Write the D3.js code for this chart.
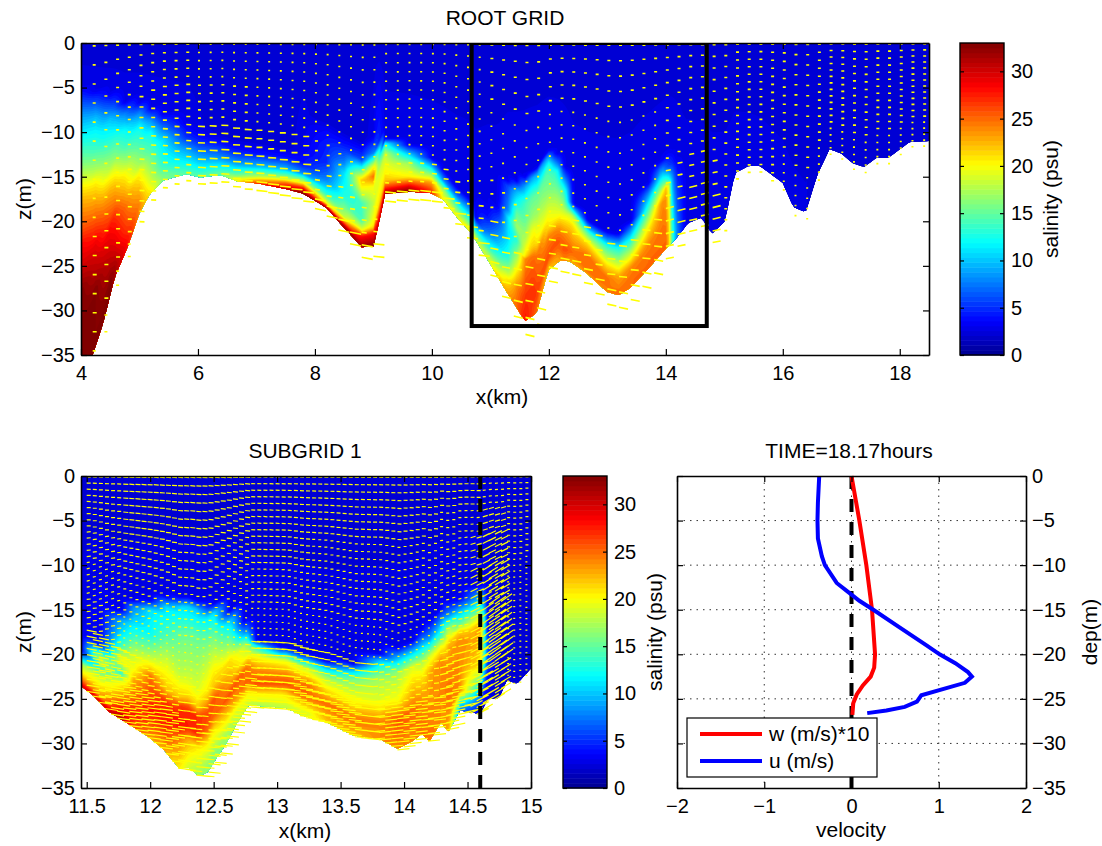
<!DOCTYPE html>
<html>
<head>
<meta charset="utf-8">
<script src="https://cdn.jsdelivr.net/npm/d3@7"></script>
<style>
  html, body { margin: 0; background: #fff; }
  text { font-family: "Liberation Sans", Arial, sans-serif; fill: #000; }
  .tick text { font-size: 20px; }
  .lab { font-size: 21px; text-anchor: middle; }
</style>
</head>
<body>
<div id="chart"></div>
<script>
const width = 1102, height = 846;

// ---------- data ----------

// seabed of the root grid
const rootBottomX = [4, 4.21, 4.38, 4.58, 4.78, 5, 5.18, 5.41, 5.81, 6.03, 6.38, 6.66, 7.06, 7.52, 7.8, 8.2, 8.48, 8.8, 9, 9.08, 9.2, 9.62, 9.97, 10.2, 10.42, 10.68, 10.99, 11.22, 11.59, 11.79, 11.88, 11.99, 12.19, 12.36, 12.64, 12.99, 13.19, 13.39, 13.73, 14.01, 14.18, 14.38, 14.61, 14.79, 15.01, 15.18, 15.41, 15.61, 16, 16.18, 16.39, 16.59, 16.8, 17, 17.2, 17.39, 17.6, 17.8, 18.17, 18.5];
const rootBottom = [38, 34.8, 31.4, 26.2, 23.2, 19.1, 16.9, 15.4, 14.7, 15.1, 14.8, 15.5, 15.8, 16.4, 16.9, 18.5, 20.6, 22.9, 22.8, 20.6, 16.9, 16.7, 16.8, 17.6, 19.5, 21.4, 24.7, 27.3, 31.2, 30.3, 28.1, 25.5, 24.4, 24.5, 25.8, 27.9, 28.3, 27.5, 25.1, 23, 21.9, 20.2, 19.6, 21.4, 20, 14.6, 13.8, 13.8, 15.7, 18.4, 19, 14.8, 11.9, 12.4, 13.5, 13.9, 12.9, 12.9, 11.1, 11];

// salinity profiles of the root grid, [depth, psu] going down
const rootProfileX = [4, 4.25, 4.5, 4.75, 5, 5.2, 5.4, 5.8, 6.4, 7, 7.5, 7.8, 8.2, 8.5, 8.8, 9, 9.08, 9.2, 9.6, 10, 10.2, 10.42, 10.68, 10.735, 10.96, 11.13, 11.3, 11.45, 11.59, 11.73, 11.87, 11.99, 12.13, 12.27, 12.42, 12.67, 12.96, 13.19, 13.41, 13.7, 13.93, 14.03, 14.1, 14.18, 14.33, 18.5];
const rootProfiles = [
  [[4.9, 3], [6, 5], [8.3, 9], [9.8, 11], [10.9, 12.5], [13.5, 16], [15.4, 19], [16.5, 21], [18, 23], [21, 26], [22.8, 28.5], [25, 30], [28, 33]],
  [[5.3, 3], [6.6, 6], [8.5, 10], [10.1, 12], [12, 14], [14.2, 17.5], [15.7, 20.5], [17.2, 22.5], [20.2, 26], [22.5, 29], [25.5, 31], [27.8, 33]],
  [[5.6, 3], [7, 6], [8.6, 10], [10.1, 12], [11.6, 14], [13.9, 17.5], [15, 20], [16.5, 22.5], [19.5, 26], [20.6, 28], [24.7, 31], [27, 33]],
  [[6.6, 3], [8, 8], [9.8, 12], [11.6, 14], [13.5, 17.5], [14.6, 20], [16.5, 22.5], [18.4, 25], [21, 27], [22.9, 29]],
  [[6.6, 3], [7.9, 8], [9.4, 12], [11.3, 14], [13.5, 17], [14.6, 20], [16.5, 22.5], [18, 24]],
  [[7.3, 3], [8.6, 8], [10.1, 12], [12.8, 15], [14.3, 17], [15.8, 19], [16.9, 21]],
  [[7.9, 3], [9.4, 7], [10.9, 11], [13.5, 13], [15, 16]],
  [[9, 3], [10.5, 5], [12, 9], [13.5, 12], [14.6, 14.5]],
  [[10.1, 2], [11.3, 4], [12.8, 8], [13.9, 12], [14.6, 15]],
  [[10.9, 2], [12.4, 4], [13.9, 10], [15, 18], [15.6, 25], [15.8, 28]],
  [[11.6, 2], [12.8, 4], [14.2, 10], [15.2, 18], [15.7, 25], [16.4, 31]],
  [[11.6, 3], [13.5, 4], [14.6, 8], [15.7, 20], [16.3, 28], [16.9, 33]],
  [[8.6, 2], [9.8, 3.5], [11.6, 4.5], [13.5, 5], [15.4, 8], [16.9, 13], [18, 20], [18.5, 32]],
  [[9.8, 2], [11.3, 4], [13.5, 8], [14.6, 11], [17.2, 13], [19.5, 18], [20.2, 26], [20.6, 32]],
  [[10.9, 2], [13.1, 6], [14.2, 14], [15.4, 22], [16.3, 20], [18, 14], [19.9, 14], [21, 20], [21.7, 28], [22.9, 32]],
  [[10.5, 3], [12.4, 8], [13.9, 20], [15, 25], [16.1, 20], [18, 18], [20.6, 21], [21.4, 28], [22.8, 33]],
  [[11.3, 5], [12.4, 14], [15, 19], [18.4, 21], [20.6, 30]],
  [[10.7, 3], [11.3, 12], [12.4, 18], [14.2, 20], [15.4, 22], [16.1, 26], [16.9, 32]],
  [[11.4, 3], [12.4, 10], [13.5, 17], [15, 20.5], [15.7, 26], [16.2, 30], [16.7, 33]],
  [[12.9, 3], [13.9, 10], [15, 18], [15.7, 23], [16.8, 27]],
  [[14.2, 3], [15.4, 8], [16.5, 17], [17.6, 20]],
  [[16.1, 3], [17.2, 8], [18.4, 15], [19.5, 20]],
  [[17.6, 3], [18.7, 8], [20.2, 14], [21.4, 21]],
  [[19.5, 3], [20.2, 8], [21, 13], [21.7, 18]],
  [[18.2, 3], [19.5, 4], [21, 7], [22.5, 12], [23.6, 17], [25, 20]],
  [[18.4, 3], [19.9, 6], [22.5, 10], [24, 14], [25.5, 19], [26.2, 22]],
  [[15.4, 3], [16.1, 6], [18.7, 8], [19.5, 11], [22.1, 11], [24, 13], [25.5, 17], [26.6, 21], [28.5, 24]],
  [[15.4, 3], [16.5, 9], [19.1, 15], [20.6, 17], [22.1, 13], [24, 17], [25.8, 21], [27.3, 24], [29.2, 25]],
  [[15, 3], [16.1, 9], [18, 14], [19.9, 15], [21.7, 17], [24, 21], [24.3, 24], [27.3, 26], [31.1, 28]],
  [[14.2, 3], [15, 9], [17.2, 15], [19.5, 17], [21, 20], [22.8, 22], [24, 25], [28, 27], [30.7, 26]],
  [[13.1, 3], [13.9, 9], [16.1, 15], [19.1, 18], [21, 20], [22.5, 24], [24.7, 25], [26.6, 26], [27.7, 24]],
  [[12, 3], [12.8, 9], [13.9, 14], [16.5, 16], [18.7, 19], [20.6, 21], [21.7, 24], [24, 26], [25.5, 22]],
  [[12.4, 3], [13.5, 8], [14.4, 13], [17.2, 17], [19.5, 20], [21, 24], [22.5, 26], [24.3, 23]],
  [[13.9, 3], [15, 7], [16.5, 13], [18.4, 17], [19.9, 21], [21.4, 24], [23.2, 26], [24.5, 24]],
  [[18, 3], [18.7, 10], [19.5, 18], [20.6, 21], [22.1, 23], [23.6, 25], [24.7, 23]],
  [[19.9, 3], [20.6, 8], [21.3, 14], [22.5, 21], [24, 25], [25.5, 25], [26.2, 23]],
  [[21, 3], [21.7, 7], [22.8, 14], [24.7, 21], [26.2, 25], [28.1, 24]],
  [[21.4, 3], [22.1, 7], [23.2, 13], [24.7, 18], [26.2, 23], [28.1, 25]],
  [[19.9, 3], [20.6, 7], [22.1, 13], [24, 20], [25.1, 24], [26.6, 25]],
  [[15.7, 3], [16.9, 8], [18.7, 14], [20.6, 20], [22.5, 24], [24.3, 25]],
  [[13.1, 3], [14.1, 8], [15.4, 13], [16.9, 20], [18, 24], [22.5, 25]],
  [[12, 3], [13.9, 6], [15.4, 14], [16.1, 23], [22, 25]],
  [[12, 3], [13.5, 5], [15.4, 10], [18.7, 13], [22.1, 15]],
  [[12.8, 3], [14.2, 4], [17.2, 6], [21, 8]],
  [[17.2, 3]],
  []
];

// seabed of subgrid 1
const subBottomX = [11.45, 11.55, 11.68, 11.85, 11.99, 12.1, 12.23, 12.3, 12.38, 12.45, 12.52, 12.6, 12.68, 12.77, 12.86, 13.07, 13.2, 13.39, 13.6, 13.81, 13.95, 14.07, 14.14, 14.2, 14.29, 14.35, 14.44, 14.6, 14.66, 14.75, 14.81, 14.89, 15];
const subBottom = [23.5, 24.6, 26.5, 28, 29.3, 30.6, 32.8, 32.7, 33.6, 33.3, 31.7, 30, 27.8, 25.8, 25.8, 26, 26.9, 27.6, 29.1, 29.5, 30.6, 29.7, 28.9, 29.8, 27.6, 28.7, 26.3, 26.7, 25, 24.9, 22.9, 23.3, 21.6];

// salinity profiles of subgrid 1
const subProfileX = [11.45, 11.61, 11.77, 11.87, 12, 12.13, 12.24, 12.37, 12.5, 12.63, 12.74, 12.84, 13.03, 13.24, 13.39, 13.6, 13.81, 13.95, 14.07, 14.14, 14.2, 14.29, 14.35, 14.44, 14.6, 14.66, 14.75, 15];
const subProfiles = [
  [[19.5, 3], [20.3, 9], [21, 17], [22.1, 21], [23.4, 29]],
  [[17.7, 3.5], [19.1, 5], [19.9, 14], [20.6, 19], [21.4, 14], [22.1, 16], [23.3, 20], [24.8, 24], [25.7, 32]],
  [[15, 3], [16.2, 9], [17.7, 11], [19.1, 14], [20.6, 20], [22.1, 13], [23.3, 20], [25.1, 25], [27, 31], [27.7, 32]],
  [[13.9, 3], [14.7, 8], [17.7, 13], [19.9, 18], [21.8, 20], [22.9, 23], [24.8, 25], [26.6, 28], [28.3, 26]],
  [[13.9, 3], [15, 11], [17.7, 12], [19.9, 17], [21.4, 21], [22.5, 25], [24.4, 26], [26.3, 28], [28.5, 25], [29.6, 23]],
  [[13.5, 3], [14.7, 11], [17.7, 14], [21, 19], [24, 22], [25.5, 27], [27.4, 28], [29.2, 26], [30.7, 23]],
  [[13.5, 3], [14.7, 11], [17.7, 15], [22.1, 18], [24.8, 22], [25.9, 27], [28.1, 28], [29.6, 24], [33, 20]],
  [[13.9, 3], [15, 10], [18, 15], [24, 19], [25.9, 22], [27, 27], [28.9, 27], [30.4, 21], [33.4, 17]],
  [[14.3, 3], [15.4, 11], [18.4, 16], [21.4, 20], [23.6, 22], [25.1, 26], [27, 25], [28.5, 21], [31.5, 16]],
  [[15, 3], [16.2, 10], [19.1, 17], [20.6, 21], [22.9, 23], [24.4, 26], [26.3, 22], [27.8, 18], [29.6, 16]],
  [[16.2, 3], [17.7, 9], [19.1, 18], [20.6, 20], [21.8, 25], [23.6, 25], [25.1, 20], [26.6, 18]],
  [[18.4, 3], [19.1, 12], [20.3, 20], [21.8, 24], [23.3, 26], [24.4, 21], [25.9, 17]],
  [[19.1, 3], [19.9, 10], [20.6, 19], [22.1, 24], [23.3, 26], [24.4, 21], [25.9, 18]],
  [[19.9, 3], [20.6, 9], [21.6, 18], [23.3, 25], [24.8, 25], [26.6, 19]],
  [[20.7, 3], [21.4, 9], [22.6, 17], [24, 21], [25.5, 25], [27.6, 22]],
  [[21, 3], [21.8, 10], [22.9, 16], [25.2, 20], [27.4, 25], [29.1, 22]],
  [[19.9, 3], [20.7, 10], [22.6, 17], [25.2, 19], [27.4, 24], [29.5, 24]],
  [[19.2, 3], [20.3, 9], [22.2, 17], [25.2, 20], [27.4, 26], [30.6, 24]],
  [[18.4, 3], [19.7, 10], [21.4, 19], [23.7, 22], [26.3, 25], [29.7, 24]],
  [[17, 3], [18.8, 9], [20.7, 17], [22.6, 21], [25.2, 24], [28.9, 25]],
  [[16.2, 3], [18.4, 9], [20.3, 19], [22.2, 23], [29.8, 25]],
  [[14.7, 3], [16.2, 8], [18, 14], [19.2, 20], [20.7, 24], [27.6, 24]],
  [[14, 3], [15.8, 9], [17.3, 18], [19.2, 23], [24.4, 25], [28.7, 23]],
  [[13.6, 3], [15, 9], [16.6, 15], [17.3, 21], [18.4, 24], [24, 24], [25.2, 14], [26.3, 7]],
  [[12.3, 3], [13.2, 8], [14.7, 13], [15.8, 19], [17, 24], [21.4, 21], [23.7, 12], [25.2, 6], [26.7, 3]],
  [[17, 3], [18.8, 6], [21.4, 5], [23, 3]],
  [],
  []
];

// quiver blocks, arrow length (px on screen) and slope, one row per sigma band
const rootArrowXBreaks = [5, 6, 7, 8, 9, 10, 11, 12, 13, 14, 15, 16];
const rootArrowSigmaBreaks = [0.3, 0.6, 0.8, 0.95];
const rootArrowLen = [
  [3, 3, 2, 2, 2, 2, 2, 3, 3, 3, 3, 3, 3],
  [3, 4, 3, 2, 2, 2, 2, 2, 2, 2, 3, 3, 3],
  [4, 5, 7, 6, 3, 2, 2, 3, 2, 2, 5, 3, 3],
  [4, 5, 8, 8, 5, 4, 5, 8, 7, 8, 8, 3, 2],
  [3, 5, 8, 11, 11, 11, 11, 9, 9, 9, 8, 3, 2]
];
const rootArrowSlope = [
  [0, 0, 0, 0, 0, 0, 0, 0, 0, 0, 0, 0, 0],
  [0, 0, 0, 0, 0, 0, 0, 0, 0, 0, 0, 0, 0],
  [0, 0.05, 0.05, 0, 0, 0, 0, 0, 0, 0, -0.2, 0, 0],
  [0, 0.05, 0.05, 0.05, 0.15, 0.1, 0.1, 0.2, 0.15, 0.1, -0.25, 0, 0],
  [0, 0.05, 0.05, 0.1, 0.2, 0.1, 0.1, 0.25, 0.2, 0.2, -0.2, 0, 0]
];

const subArrowXBreaks = [11.75, 12.25, 12.75, 13.25, 13.75, 14.25, 14.5, 14.62, 14.78];
const subArrowSigmaBreaks = [0.12, 0.25, 0.4, 0.55, 0.7, 0.85];
const subArrowLen = [
  [4, 5, 5, 4, 4, 4, 4, 4, 3, 3],
  [4, 5, 5, 4, 4, 4, 3, 3, 5, 3],
  [4, 4, 4, 4, 3, 3, 3, 5, 7, 3],
  [3, 3, 3, 3, 3, 3, 3, 7, 9, 2],
  [4, 2, 2, 2, 2, 2, 4, 9, 11, 2],
  [10, 7, 6, 9, 6, 5, 8, 12, 12, 2],
  [13, 13, 12, 13, 13, 12, 13, 12, 10, 2]
];
const subArrowSlope = [
  [0.03, 0.08, 0.08, 0.05, 0.05, 0.05, 0, 0, -0.1, 0],
  [0, 0.1, 0.1, 0.08, 0.05, 0.03, 0, -0.1, -0.3, 0],
  [-0.1, 0.1, 0.1, 0.05, 0, 0, -0.1, -0.3, -0.5, 0],
  [-0.2, 0, 0, 0, 0, 0, -0.2, -0.5, -0.6, 0],
  [-0.1, 0.1, 0.1, 0, 0, 0, -0.2, -0.5, -0.7, 0],
  [0.2, 0.15, 0.1, 0.1, 0.1, -0.1, -0.25, -0.5, -0.7, 0],
  [0.15, 0.12, 0.1, 0.1, 0.1, -0.1, -0.2, -0.5, -0.6, 0]
];

// velocity profiles of the right panel
const wDepth = [0, 5, 10, 15, 20, 21.5, 22.5, 23.5, 24.5, 25.5, 26.8];
const wValue = [0, 0.09, 0.17, 0.235, 0.27, 0.26, 0.22, 0.13, 0.06, 0.02, 0.01];
const uDepth = [0, 3, 5, 7, 9, 10, 12, 13, 14, 15, 17, 19, 20, 21, 22, 22.5, 23.2, 24.6, 25.3, 25.9, 26.3, 26.6];
const uValue = [-0.37, -0.385, -0.39, -0.385, -0.34, -0.305, -0.17, -0.04, 0.09, 0.25, 0.555, 0.86, 1.01, 1.19, 1.335, 1.38, 1.3, 0.8, 0.75, 0.61, 0.4, 0.18];

const depthTicks = [0, -5, -10, -15, -20, -25, -30, -35];
const rootXTicks = [4, 6, 8, 10, 12, 14, 16, 18];
const subXTicks = [11.5, 12, 12.5, 13, 13.5, 14, 14.5, 15];
const velTicks = [-2, -1, 0, 1, 2];
const cbarTicks = [0, 5, 10, 15, 20, 25, 30];

const salMax = 33;
const background = 2; // psu of the fresh water on top

// ---------- scales ----------

// matlab's jet colormap
const jet = d3.scaleLinear()
  .domain([0, 0.11, 0.36, 0.61, 0.86, 1])
  .range(["#00008f", "#0000ff", "#00ffff", "#ffff00", "#ff0000", "#800000"])
  .clamp(true);

const y = d3.scaleLinear().domain([-35, 0]);

const svg = d3.select("#chart").append("svg")
  .attr("width", width).attr("height", height);

// draws axes frame with inward ticks on all four sides
function frame(g, xs, ys, xTicks, yTicks, yRight) {
  const xFmt = d3.format("");
  g.append("g").attr("transform", `translate(0,${ys.range()[0]})`)
    .call(d3.axisBottom(xs).tickValues(xTicks).tickFormat(xFmt).tickSizeInner(-6).tickSizeOuter(0).tickPadding(11));
  g.append("g").attr("transform", `translate(0,${ys.range()[1]})`)
    .call(d3.axisTop(xs).tickValues(xTicks).tickFormat("").tickSizeInner(-6).tickSizeOuter(0));
  const axL = yRight ? d3.axisLeft(ys).tickFormat("") : d3.axisLeft(ys).tickPadding(6);
  const axR = yRight ? d3.axisRight(ys).tickPadding(6) : d3.axisRight(ys).tickFormat("");
  g.append("g").attr("transform", `translate(${xs.range()[0]},0)`)
    .call(axL.tickValues(yTicks).tickSizeInner(-6).tickSizeOuter(0));
  g.append("g").attr("transform", `translate(${xs.range()[1]},0)`)
    .call(axR.tickValues(yTicks).tickSizeInner(-6).tickSizeOuter(0));
  g.selectAll(".domain").attr("stroke-width", 1.6);
  g.selectAll(".tick line").attr("stroke-width", 1.2);
}

// contourf of the salinity on terrain following levels
function drawField(g, xs, ys, profileX, profiles, bottomX, bottom, nCols, nRows) {
  const bottomAt = d3.scaleLinear().domain(bottomX).range(bottom);
  const sigmas = d3.range(nRows).map(j => j / (nRows - 1));

  // each measured profile on the sigma levels
  const onSigma = profiles.map((p, i) => {
    const h = bottomAt(profileX[i]);
    const last = p.length ? p[p.length - 1][1] : background;
    const f = d3.scaleLinear()
      .domain([0, ...p.map(d => d[0]), 99])
      .range([background, ...p.map(d => d[1]), last]);
    return sigmas.map(s => f(s * h));
  });

  const x0 = profileX[0], x1 = profileX[profileX.length - 1];
  const colToKm = d3.scaleLinear().domain([0, nCols - 1]).range([x0, x1]).clamp(true);
  const values = new Float64Array(nCols * nRows);
  for (let c = 0; c < nCols; c++) {
    const km = colToKm(c);
    const k = Math.min(d3.bisectRight(profileX, km), profileX.length - 1);
    const t = (km - profileX[k - 1]) / (profileX[k] - profileX[k - 1]);
    for (let r = 0; r < nRows; r++) {
      values[r * nCols + c] = onSigma[k - 1][r] * (1 - t) + onSigma[k][r] * t;
    }
  }

  const levels = d3.range(0, salMax + 0.5, 0.5);
  const contours = d3.contours().size([nCols, nRows]).thresholds(levels)(values);
  const toScreen = d3.geoTransform({
    point(cx, cy) {
      const km = colToKm(cx - 0.5);
      const s = Math.max(0, Math.min(1, (cy - 0.5) / (nRows - 1)));
      this.stream.point(xs(km), ys(-s * bottomAt(km)));
    }
  });
  const path = d3.geoPath(toScreen);
  g.selectAll("path.band").data(contours).enter().append("path")
    .attr("class", "band")
    .attr("d", path)
    .attr("fill", d => jet((d.value + 0.25) / salMax));
  return bottomAt;
}

// quiver drawn on the model grid, lengths from the block tables
function drawArrows(g, xs, ys, bottomAt, cols, nLevels, sigmaEnd, xBreaks, sBreaks, lenTab, slopeTab, weight) {
  const xBand = d3.scaleThreshold().domain(xBreaks).range(d3.range(xBreaks.length + 1));
  const sBand = d3.scaleThreshold().domain(sBreaks).range(d3.range(sBreaks.length + 1));
  const p = d3.path();
  cols.forEach(km => {
    const h = bottomAt(km);
    d3.range(nLevels).forEach(j => {
      const s = (j + 0.15) / (nLevels - 1) * sigmaEnd;
      const band = sBand(s), col = xBand(km);
      const len = lenTab[band][col], slope = slopeTab[band][col];
      const px = xs(km), py = ys(-s * h);
      p.moveTo(px, py);
      p.lineTo(px + len, py + len * slope);
    });
  });
  g.append("path").attr("d", p.toString())
    .attr("fill", "none").attr("stroke", "#ffff00").attr("stroke-width", weight);
}

function clip(id, xs, ys) {
  svg.append("clipPath").attr("id", id).append("rect")
    .attr("x", xs.range()[0]).attr("y", ys.range()[1])
    .attr("width", xs.range()[1] - xs.range()[0])
    .attr("height", ys.range()[0] - ys.range()[1]);
  return svg.append("g").attr("clip-path", `url(#${id})`);
}

function colorbar(x0, x1, y0, y1) {
  const g = svg.append("g");
  const ys = d3.scaleLinear().domain([0, salMax]).range([y1, y0]);
  const step = salMax / 64;
  g.selectAll("rect").data(d3.range(64)).enter().append("rect")
    .attr("x", x0).attr("width", x1 - x0)
    .attr("y", i => ys((i + 1) * step))
    .attr("height", i => ys(i * step) - ys((i + 1) * step) + 0.5)
    .attr("fill", i => jet((i + 0.5) / 64));
  g.append("g").attr("transform", `translate(${x1},0)`)
    .call(d3.axisRight(ys).tickValues(cbarTicks).tickSizeInner(-4).tickSizeOuter(0).tickPadding(7));
  g.append("g").attr("transform", `translate(${x0},0)`)
    .call(d3.axisLeft(ys).tickValues(cbarTicks).tickFormat("").tickSizeInner(-4).tickSizeOuter(0));
  g.append("rect").attr("x", x0).attr("y", y0).attr("width", x1 - x0).attr("height", y1 - y0)
    .attr("fill", "none").attr("stroke", "#000").attr("stroke-width", 1.4);
  g.selectAll(".domain").attr("stroke", "none");
  g.selectAll(".tick line").attr("stroke-width", 1.2);
}

function label(x, yy, txt, rotate) {
  svg.append("text").attr("class", "lab")
    .attr("transform", `translate(${x},${yy})` + (rotate ? " rotate(-90)" : ""))
    .text(txt);
}

// ---------- root grid ----------
const xRoot = d3.scaleLinear().domain([4, 18.5]).range([81, 929]);
const yRoot = y.copy().range([355, 43]);
const rootG = clip("clipRoot", xRoot, yRoot);
const rootBottomAt = drawField(rootG, xRoot, yRoot, rootProfileX, rootProfiles, rootBottomX, rootBottom, 291, 141);
drawArrows(rootG, xRoot, yRoot, rootBottomAt, d3.range(4.2, 18.5, 0.2), 18, 1.04,
  rootArrowXBreaks, rootArrowSigmaBreaks, rootArrowLen, rootArrowSlope, 1.6);
// nested grid outline
const boxX = [10.68, 14.7], boxZ = [0, -31.75];
rootG.append("rect")
  .attr("x", xRoot(boxX[0])).attr("y", yRoot(boxZ[0]))
  .attr("width", xRoot(boxX[1]) - xRoot(boxX[0]))
  .attr("height", yRoot(boxZ[1]) - yRoot(boxZ[0]))
  .attr("fill", "none").attr("stroke", "#000").attr("stroke-width", 4);
frame(svg.append("g"), xRoot, yRoot, rootXTicks, depthTicks, false);
colorbar(960, 1004, 43, 355);

// ---------- subgrid ----------
const xSub = d3.scaleLinear().domain([11.455, 15]).range([81, 531]);
const ySub = y.copy().range([788, 476]);
const subG = clip("clipSub", xSub, ySub);
const subBottomAt = drawField(subG, xSub, ySub, subProfileX, subProfiles, subBottomX, subBottom, 237, 161);
drawArrows(subG, xSub, ySub, subBottomAt, d3.range(11.5, 15, 0.048), 36, 1.0,
  subArrowXBreaks, subArrowSigmaBreaks, subArrowLen, subArrowSlope, 1.2);
const stationX = 14.6;
subG.append("line")
  .attr("x1", xSub(stationX)).attr("x2", xSub(stationX))
  .attr("y1", ySub(0)).attr("y2", ySub(-35))
  .attr("stroke", "#000").attr("stroke-width", 4).attr("stroke-dasharray", "13 10");
frame(svg.append("g"), xSub, ySub, subXTicks, depthTicks, false);
colorbar(563, 607, 476, 788);

// ---------- velocity profiles ----------
const xVel = d3.scaleLinear().domain([-2, 2]).range([677, 1026]);
const yVel = y.copy().range([788, 476]);
const velG = svg.append("g");
velG.selectAll("line.gv").data(velTicks.slice(1, -1)).enter().append("line")
  .attr("x1", d => xVel(d)).attr("x2", d => xVel(d))
  .attr("y1", yVel(0)).attr("y2", yVel(-35))
  .attr("stroke", "#333").attr("stroke-width", 1).attr("stroke-dasharray", "1.5 5");
velG.selectAll("line.gh").data(depthTicks.slice(1, -1)).enter().append("line")
  .attr("x1", xVel(-2)).attr("x2", xVel(2))
  .attr("y1", d => yVel(d)).attr("y2", d => yVel(d))
  .attr("stroke", "#333").attr("stroke-width", 1).attr("stroke-dasharray", "1.5 5");
velG.append("line")
  .attr("x1", xVel(0)).attr("x2", xVel(0)).attr("y1", yVel(0)).attr("y2", yVel(-35))
  .attr("stroke", "#000").attr("stroke-width", 4).attr("stroke-dasharray", "13 10");
const velLine = d3.line().x(d => xVel(d[0])).y(d => yVel(-d[1]));
velG.append("path").attr("d", velLine(d3.zip(wValue, wDepth)))
  .attr("fill", "none").attr("stroke", "#ff0000").attr("stroke-width", 4);
velG.append("path").attr("d", velLine(d3.zip(uValue, uDepth)))
  .attr("fill", "none").attr("stroke", "#0000ff").attr("stroke-width", 4);
frame(svg.append("g"), xVel, yVel, velTicks, depthTicks, true);

// legend
const legend = svg.append("g");
legend.append("rect").attr("x", 687).attr("y", 718).attr("width", 190).attr("height", 59)
  .attr("fill", "#fff").attr("stroke", "#000").attr("stroke-width", 1.2);
[["w (m/s)*10", "#ff0000", 734], ["u (m/s)", "#0000ff", 761]].forEach(d => {
  legend.append("line").attr("x1", 700).attr("x2", 762).attr("y1", d[2]).attr("y2", d[2])
    .attr("stroke", d[1]).attr("stroke-width", 4);
  legend.append("text").attr("x", 769).attr("y", d[2] + 7).style("font-size", "21px").text(d[0]);
});

// ---------- titles and axis labels ----------
label(505, 25, "ROOT GRID");
label(305, 458, "SUBGRID 1");
label(849, 458, "TIME=18.17hours");
label(502, 404, "x(km)");
label(305, 838, "x(km)");
label(851, 837, "velocity");
label(31, 199, "z(m)", true);
label(31, 632, "z(m)", true);
label(1058, 199, "salinity (psu)", true);
label(662, 632, "salinity (psu)", true);
label(1097, 632, "dep(m)", true);
</script>
</body>
</html>
